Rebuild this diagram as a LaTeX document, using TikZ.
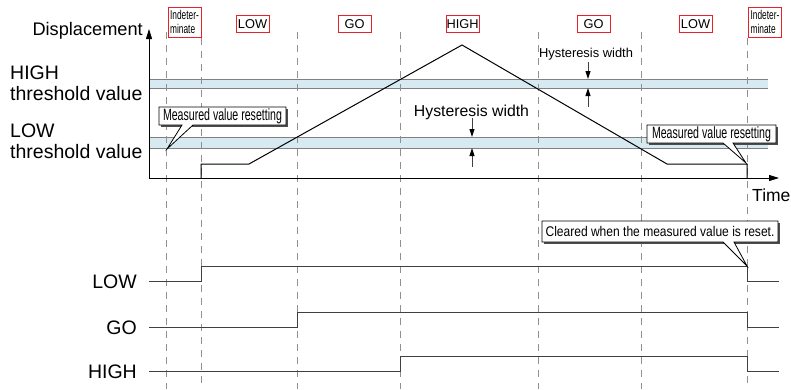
\documentclass[tikz,border=0pt]{standalone}
\usepackage{fontspec}
\setmainfont{Liberation Sans}
\newfontfamily\narrowfont[FakeStretch=0.65]{Liberation Sans}
\newfontfamily\narrowfontb[FakeStretch=0.86]{Liberation Sans}
\usetikzlibrary{arrows.meta}
\definecolor{bandfill}{HTML}{D7E9F1}
\definecolor{bandline}{HTML}{808080}
\definecolor{dashgray}{HTML}{909090}
\definecolor{sig}{HTML}{404040}
\definecolor{boxred}{HTML}{E8202A}
\begin{document}
\begin{tikzpicture}[x=1pt,y=-1pt,
  axisline/.style={black, line width=0.9pt, -{Triangle[length=10pt,width=6pt]}},
  dashv/.style={dashgray, line width=0.8pt, dash pattern=on 7pt off 6pt},
  bandedge/.style={bandline, line width=0.9pt},
  curve/.style={black, line width=1pt},
  signal/.style={sig, line width=0.9pt},
  redbox/.style={draw=boxred, line width=0.9pt, minimum width=33pt, minimum height=17pt, inner sep=0pt, font=\fontsize{12.8}{13}\selectfont},
  indet/.style={redbox, minimum height=30pt, align=left, font=\narrowfont\fontsize{12.8}{13.5}\selectfont},
  biglabel/.style={inner sep=0pt, font=\fontsize{19.5}{22}\selectfont},
  hystarrow/.style={black!75, line width=1pt, -{Triangle[length=8pt,width=5pt,color=black,fill=black]}},
  calloutbox/.style={fill=white, draw=black, line width=0.8pt},
  calloutshadow/.style={fill=black!70},
  callouttext/.style={inner sep=0pt, font=\narrowfont\fontsize{16.3}{18}\selectfont}
]
\useasboundingbox (0,0) rectangle (791,389);

% threshold bands
\fill[bandfill] (149,79) rectangle (768,88);
\draw[bandedge] (149,79) -- (768,79) (149,88) -- (768,88);
\fill[bandfill] (149,137) rectangle (768,148);
\draw[bandedge] (149,137) -- (768,137) (149,148) -- (768,148);

% dashed time markers
\foreach \xx in {166,297,400,538,641}
  \draw[dashv] (\xx,32) -- (\xx,389);
\foreach \xx in {201,747}
  \draw[dashv] (\xx,38) -- (\xx,389);

% axes
\coordinate (origin) at (149,178);
\coordinate (ytip) at (149,29);
\coordinate (xtip) at (779,178);
\draw[axisline] (origin) -- (ytip);
\draw[axisline] (origin) -- (xtip);

% displacement curve
\coordinate (c0) at (201,178);
\coordinate (c1) at (201,164);
\coordinate (c2) at (249,164);
\coordinate (peak) at (462,45);
\coordinate (c3) at (667,164);
\coordinate (c4) at (747,164);
\coordinate (c5) at (747,178);
\draw[curve] (c0) -- (c1) -- (c2) -- (peak) -- (c3) -- (c4) -- (c5);

% output signals
\draw[signal] (149,281) -- (201,281) -- (201,266) -- (747,266) -- (747,281) -- (779,281);
\draw[signal] (149,327) -- (297,327) -- (297,312) -- (747,312) -- (747,327) -- (779,327);
\draw[signal] (149,371) -- (400,371) -- (400,356) -- (747,356) -- (747,371) -- (779,371);

% axis labels
\node[inner sep=0pt, anchor=base east, font=\fontsize{18.2}{20}\selectfont] (disp) at (143,35) {Displacement};
\node[inner sep=0pt, anchor=base west, font=\fontsize{17.5}{20}\selectfont] (time) at (752,201) {Time};
\node[biglabel, anchor=base west] (hi1) at (10,79) {HIGH};
\node[biglabel, anchor=base west] (hi2) at (10,100) {threshold value};
\node[biglabel, anchor=base west] (lo1) at (10,137) {LOW};
\node[biglabel, anchor=base west] (lo2) at (10,158) {threshold value};
\node[biglabel, anchor=base east] (sLOW) at (137,288) {LOW};
\node[biglabel, anchor=base east] (sGO) at (137,334) {GO};
\node[biglabel, anchor=base east] (sHIGH) at (137,378) {HIGH};

% state boxes
\node[indet, inner xsep=1.5pt] (ind1) at (184.5,22) {Indeter-\\minate};
\node[redbox] (st1) at (252.5,24) {LOW};
\node[redbox] (st2) at (354.5,24) {GO};
\node[redbox] (st3) at (462.5,24) {HIGH};
\node[redbox] (st4) at (593.5,24) {GO};
\node[redbox] (st5) at (695.5,24) {LOW};
\node[indet, inner xsep=1.5pt] (ind2) at (765,22) {Indeter-\\minate};

% hysteresis widths
\node[inner sep=0pt, anchor=base, font=\fontsize{15.8}{18}\selectfont] (hyst1) at (471.5,116) {Hysteresis width};
\coordinate (h1a) at (472,118);
\coordinate (h1b) at (472,137);
\coordinate (h1c) at (472,167);
\coordinate (h1d) at (472,148);
\draw[hystarrow] (h1a) -- (h1b);
\draw[hystarrow] (h1c) -- (h1d);
\node[inner sep=0pt, anchor=base, font=\fontsize{12.9}{15}\selectfont] (hyst2) at (586,57) {Hysteresis width};
\coordinate (h2a) at (588,62);
\coordinate (h2b) at (588,79);
\coordinate (h2c) at (588,107);
\coordinate (h2d) at (588,88);
\draw[hystarrow] (h2a) -- (h2b);
\draw[hystarrow] (h2c) -- (h2d);

% callouts
\fill[calloutshadow] (160.5,108.5) rectangle (287.5,126.5);
\draw[calloutbox] (159,107) -- (286,107) -- (286,125) -- (193,125) -- (167,149) -- (182,125) -- (159,125) -- cycle;
\node[callouttext] (mv1) at (222.5,116) {Measured value resetting};

\fill[calloutshadow] (648.5,126.5) rectangle (777.5,144.5);
\draw[calloutbox] (647,125) -- (776,125) -- (776,143) -- (733,143) -- (746,163) -- (723,143) -- (647,143) -- cycle;
\node[callouttext] (mv2) at (711.5,134) {Measured value resetting};

\fill[calloutshadow] (543.5,222.5) rectangle (779.5,243.5);
\draw[calloutbox] (542,221) -- (778,221) -- (778,242) -- (734,242) -- (747,266) -- (723,242) -- (542,242) -- cycle;
\node[inner sep=0pt, font=\narrowfontb\fontsize{14}{16}\selectfont] (clr) at (660,231.5) {Cleared when the measured value is reset.};
\end{tikzpicture}
\end{document}
